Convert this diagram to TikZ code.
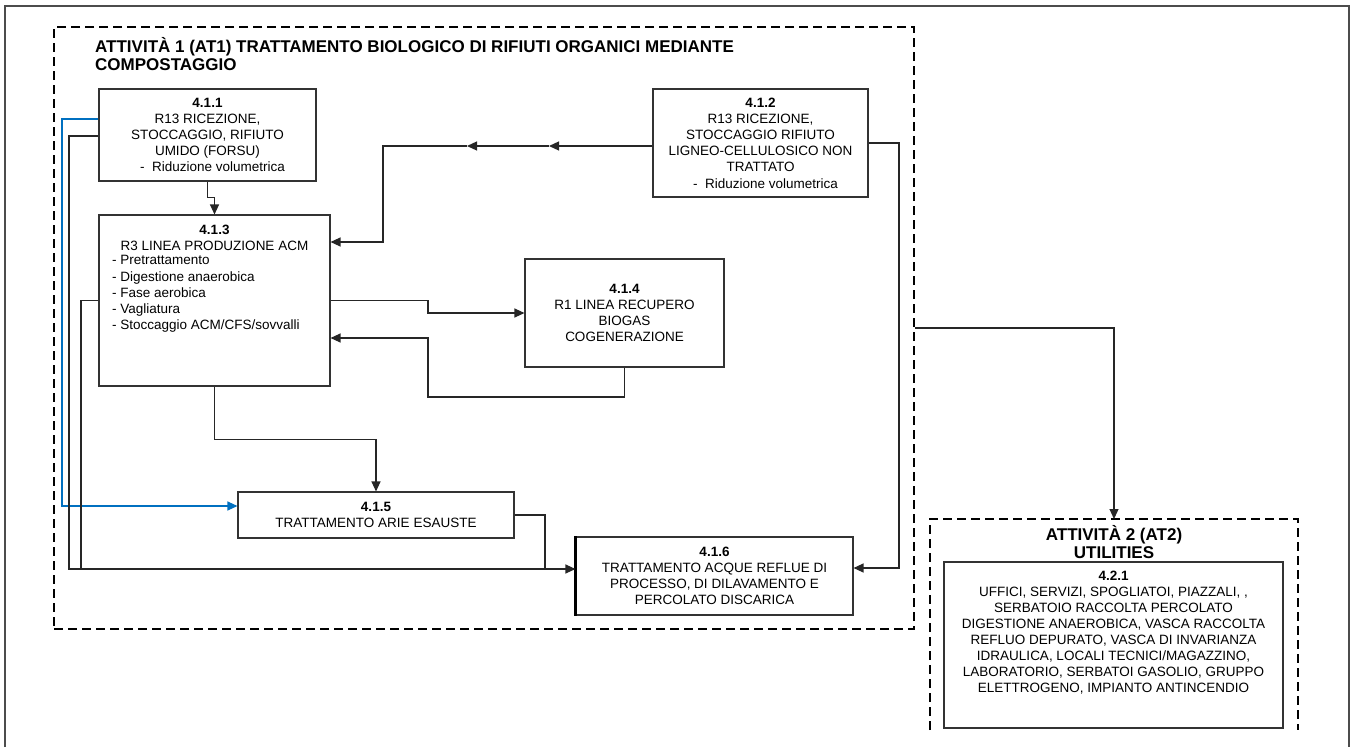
\documentclass[tikz,border=0pt]{standalone}
\usepackage{fontspec}
\setmainfont{Liberation Sans}
\usetikzlibrary{arrows.meta}
\definecolor{linkblue}{RGB}{0,112,192}
\begin{document}
\begin{tikzpicture}[x=1pt,y=-1pt,
  box/.style={draw=black!80,line width=1.1pt,inner sep=0pt,align=center,font=\fontsize{13.5}{16.2}\selectfont},
  group/.style={draw,line width=1.4pt,dash pattern=on 9pt off 5pt},
  txt/.style={inner sep=0pt,font=\fontsize{13.5}{16.2}\selectfont},
  title/.style={inner sep=0pt,align=center,font=\fontsize{17}{18.5}\selectfont\bfseries},
  link/.style={color=black!85,line width=1.2pt},
  arr/.style={link,-{Triangle[length=10pt,width=9pt]}}]
\useasboundingbox (0,0) rectangle (1354,747);
\draw[line width=1.2pt,black!70] (5,747) -- (5,6) -- (1349,6) -- (1349,747);
% activity 1
\node[group,minimum width=860,minimum height=602,inner sep=0pt] (at1box) at (484,328) {};
\node[title,align=left,anchor=west] (at1title) at (95,54) {ATTIVITÀ 1 (AT1) TRATTAMENTO BIOLOGICO DI RIFIUTI ORGANICI MEDIANTE\\COMPOSTAGGIO};
\node[box,minimum width=217,minimum height=92] (b411) at (207.5,135) {\textbf{4.1.1}\\R13 RICEZIONE,\\STOCCAGGIO, RIFIUTO\\UMIDO (FORSU)\\\hspace*{10pt}-\ \ Riduzione volumetrica};
\node[box,minimum width=215,minimum height=108] (b412) at (760.5,143) {\textbf{4.1.2}\\R13 RICEZIONE,\\STOCCAGGIO RIFIUTO\\LIGNEO-CELLULOSICO NON\\TRATTATO\\\hspace*{10pt}-\ \ Riduzione volumetrica};
\node[box,minimum width=231,minimum height=171] (b413) at (214.5,300.5) {};
\node[txt,align=center] (h413) at (214.5,238) {\textbf{4.1.3}\\R3 LINEA PRODUZIONE ACM};
\node[txt,align=left,anchor=west] (l413) at (112,294) {- Pretrattamento\\- Digestione anaerobica\\- Fase aerobica\\- Vagliatura\\- Stoccaggio ACM/CFS/sovvalli};
\node[box,minimum width=199,minimum height=108] (b414) at (624.5,313) {\textbf{4.1.4}\\R1 LINEA RECUPERO\\BIOGAS\\COGENERAZIONE};
\node[box,minimum width=276,minimum height=46] (b415) at (376,515) {\textbf{4.1.5}\\TRATTAMENTO ARIE ESAUSTE};
\node[box,minimum width=277,minimum height=78] (b416) at (714.5,576) {\textbf{4.1.6}\\TRATTAMENTO ACQUE REFLUE DI\\PROCESSO, DI DILAVAMENTO E\\PERCOLATO DISCARICA};
\draw[line width=2.2pt] (b416.north west) -- (b416.south west);
% activity 2
\draw[group] (930,730) -- (930,519) -- (1298,519) -- (1298,730);
\coordinate (at2top) at (1114,519);
\node[title] (at2title) at (1114,542) {ATTIVITÀ 2 (AT2)\\UTILITIES};
\node[box,minimum width=339,minimum height=166] (b421) at (1113.5,645) {};
\node[txt,align=center,font=\fontsize{13.5}{16}\selectfont] (t421) at (1113.5,632.5) {\textbf{4.2.1}\\UFFICI, SERVIZI, SPOGLIATOI, PIAZZALI, ,\\SERBATOIO RACCOLTA PERCOLATO\\DIGESTIONE ANAEROBICA, VASCA RACCOLTA\\REFLUO DEPURATO, VASCA DI INVARIANZA\\IDRAULICA, LOCALI TECNICI/MAGAZZINO,\\LABORATORIO, SERBATOI GASOLIO, GRUPPO\\ELETTROGENO, IMPIANTO ANTINCENDIO};
% connectors
\draw[arr] (b411.south) -- ++(0,16) -| (b413.north);
\coordinate (c412a) at (549,146);
\coordinate (c412b) at (467,146);
\coordinate (c412c) at (383,242);
\draw[arr] ([yshift=-3pt]b412.west) -- (c412a);
\draw[arr] (c412a) -- (c412b);
\draw[arr] (c412b) -| (c412c) -- (c412c -| b413.east);
\draw[arr] (b412.east) -- (899,143) |- ([yshift=8pt]b416.east);
\draw[arr] (b413.east) -| (428,313) -- (b414.west);
\draw[arr] (b414.south) |- (428,397) |- ([yshift=-37.5pt]b413.east);
\draw[arr] (b413.south) -- ++(0,53) -| (b415.north);
\draw[arr,linkblue] ([yshift=16pt]b411.west) -| (62,300) |- ([yshift=9pt]b415.west);
\draw[arr] ([yshift=-1pt]b411.west) -| (69,400) |- ([yshift=7pt]b416.west);
\coordinate (j413) at (81,569);
\coordinate (m416) at (545,569);
\draw[link] (b413.west) -| (j413);
\draw[link] (b415.east) -| (m416);
\draw[arr] (at1box.east) -| (at2top);
\end{tikzpicture}
\end{document}
